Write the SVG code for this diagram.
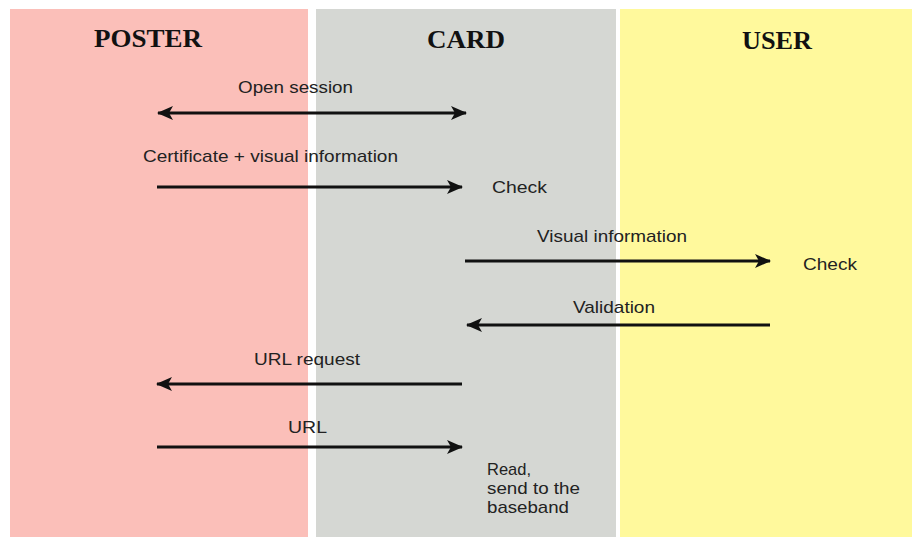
<svg xmlns="http://www.w3.org/2000/svg" width="912" height="540" viewBox="0 0 912 540">
<style>
.t{font-family:"Liberation Serif","Times New Roman",serif;font-weight:bold;font-size:25px;fill:#111;text-anchor:middle}
.l{font-family:"Liberation Sans",Arial,sans-serif;font-size:17px;fill:#222}
.a{stroke:#111;stroke-width:3;fill:none}
</style>
<defs>
<marker id="ah" markerUnits="userSpaceOnUse" markerWidth="16" markerHeight="14" refX="15" refY="7" orient="auto-start-reverse" viewBox="0 0 16 14">
<path d="M0,0 L16,7 L0,14 L4,7 Z" fill="#111"/>
</marker>
</defs>
<rect x="0" y="0" width="912" height="540" fill="#fff"/>
<g id="poster">
<rect x="10" y="9" width="298" height="528" fill="#fbbfb9"/>
<text class="t" x="148" y="47" textLength="108" lengthAdjust="spacingAndGlyphs">POSTER</text>
</g>
<g id="card">
<rect x="316" y="9" width="300" height="528" fill="#d5d7d3"/>
<text class="t" x="466" y="48" textLength="78" lengthAdjust="spacingAndGlyphs">CARD</text>
</g>
<g id="user">
<rect x="620" y="9" width="292" height="528" fill="#fff99c"/>
<text class="t" x="777" y="49" textLength="70" lengthAdjust="spacingAndGlyphs">USER</text>
</g>
<g id="connectors">
<line class="a" x1="158" y1="113" x2="466" y2="113" marker-start="url(#ah)" marker-end="url(#ah)"/>
<line class="a" x1="157" y1="187" x2="462" y2="187" marker-end="url(#ah)"/>
<line class="a" x1="465" y1="261" x2="770" y2="261" marker-end="url(#ah)"/>
<line class="a" x1="770" y1="325" x2="467" y2="325" marker-end="url(#ah)"/>
<line class="a" x1="462" y1="384" x2="157" y2="384" marker-end="url(#ah)"/>
<line class="a" x1="157" y1="447" x2="462" y2="447" marker-end="url(#ah)"/>
</g>
<g id="labels">
<text class="l" x="238" y="93" textLength="115" lengthAdjust="spacingAndGlyphs">Open session</text>
<text class="l" x="143" y="162" textLength="255" lengthAdjust="spacingAndGlyphs">Certificate + visual information</text>
<text class="l" x="492" y="193" textLength="55" lengthAdjust="spacingAndGlyphs">Check</text>
<text class="l" x="537" y="242" textLength="150" lengthAdjust="spacingAndGlyphs">Visual information</text>
<text class="l" x="803" y="270" textLength="54" lengthAdjust="spacingAndGlyphs">Check</text>
<text class="l" x="573" y="313" textLength="82" lengthAdjust="spacingAndGlyphs">Validation</text>
<text class="l" x="254" y="365" textLength="106" lengthAdjust="spacingAndGlyphs">URL request</text>
<text class="l" x="288" y="433" textLength="39" lengthAdjust="spacingAndGlyphs">URL</text>
<text class="l" x="487" y="475" textLength="44" lengthAdjust="spacingAndGlyphs">Read,</text>
<text class="l" x="487" y="494" textLength="93" lengthAdjust="spacingAndGlyphs">send to the</text>
<text class="l" x="487" y="513" textLength="82" lengthAdjust="spacingAndGlyphs">baseband</text>
</g>
</svg>
